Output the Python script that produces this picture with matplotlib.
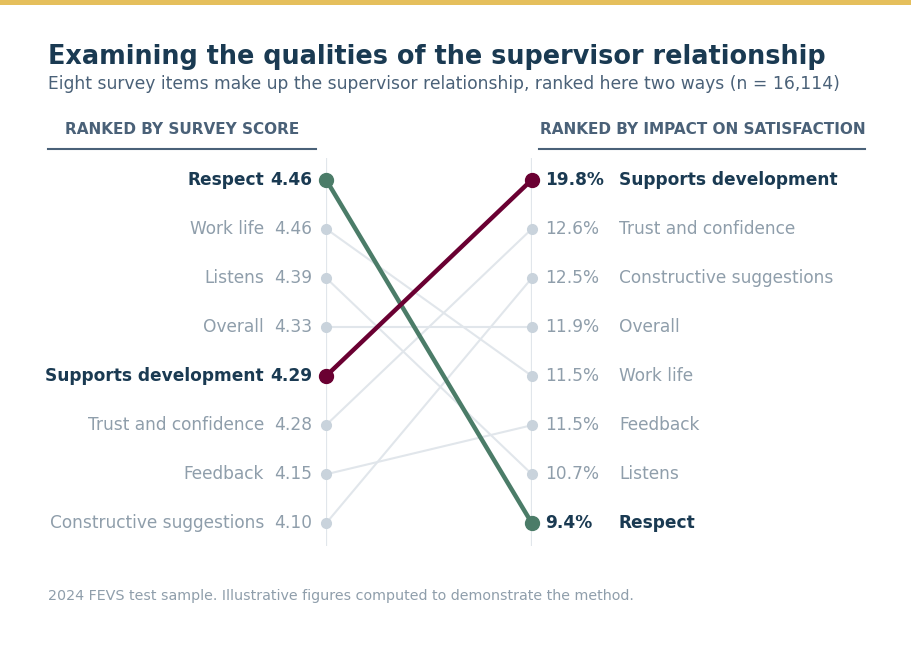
import matplotlib
matplotlib.use("Agg")
import matplotlib.pyplot as plt
from matplotlib.lines import Line2D

# ---- data ----
score_items = ["Respect", "Work life", "Listens", "Overall", "Supports development",
               "Trust and confidence", "Feedback", "Constructive suggestions"]
score_values = [4.46, 4.46, 4.39, 4.33, 4.29, 4.28, 4.15, 4.10]
impact_items = ["Supports development", "Trust and confidence", "Constructive suggestions",
                "Overall", "Work life", "Feedback", "Listens", "Respect"]
impact_values = [19.8, 12.6, 12.5, 11.9, 11.5, 11.5, 10.7, 9.4]
highlight = {"Respect": "#4b7c68", "Supports development": "#6a0032"}

title = "Examining the qualities of the supervisor relationship"
subtitle = "Eight survey items make up the supervisor relationship, ranked here two ways (n = 16,114)"
left_header = "RANKED BY SURVEY SCORE"
right_header = "RANKED BY IMPACT ON SATISFACTION"
footer = "2024 FEVS test sample. Illustrative figures computed to demonstrate the method."

NAVY = "#1a3a52"
SUB = "#4a6178"
GRAY_TXT = "#8f9eab"
GRAY_DOT = "#c9d3dc"
GRAY_LINE = "#e1e6eb"
GOLD = "#e5bf5c"

W, H = 912, 647
fig = plt.figure(figsize=(W / 100, H / 100), dpi=100)
fig.patch.set_facecolor("white")

def fx(px):
    return px / W

def fy(py):
    return 1 - py / H

# gold top bar
fig.add_artist(plt.Rectangle((0, fy(5)), 1, 5 / H, transform=fig.transFigure,
                             color=GOLD, lw=0))

fig.text(fx(48), fy(57), title, fontsize=18.4, fontweight="bold", color=NAVY, va="center")
fig.text(fx(48), fy(84), subtitle, fontsize=12.35, color=SUB, va="center")
fig.text(fx(182), fy(129), left_header, fontsize=11, fontweight="bold", color=SUB,
         va="center", ha="center")
fig.text(fx(703), fy(129), right_header, fontsize=11, fontweight="bold", color=SUB,
         va="center", ha="center")
fig.add_artist(Line2D([fx(48), fx(316)], [fy(149), fy(149)], transform=fig.transFigure,
                      color=SUB, lw=1.5))
fig.add_artist(Line2D([fx(539), fx(865)], [fy(149), fy(149)], transform=fig.transFigure,
                      color=SUB, lw=1.5))
fig.text(fx(48), fy(596), footer, fontsize=10.3, color=GRAY_TXT, va="center")

# slope axes
ax = fig.add_axes([fx(326), fy(545.5), fx(532) - fx(326), (545.5 - 157.5) / H])
ax.set_xlim(0, 1)
ax.set_ylim(7.45, -0.45)
ax.axis("off")
ax.axvline(0, color=GRAY_LINE, lw=1.6, zorder=0)
ax.axvline(1, color=GRAY_LINE, lw=1.6, zorder=0)

for i, item in enumerate(score_items):
    j = impact_items.index(item)
    hl = item in highlight
    col = highlight.get(item, None)
    if hl:
        ax.plot([0, 1], [i, j], color=col, lw=3.2, zorder=3, solid_capstyle="round")
        ax.plot([0, 1], [i, j], "o", color=col, ms=10, zorder=4, clip_on=False)
    else:
        ax.plot([0, 1], [i, j], color=GRAY_LINE, lw=1.5, zorder=1)
        ax.plot([0, 1], [i, j], "o", color=GRAY_DOT, ms=7, zorder=2, clip_on=False)

fs = 12.25
for i, (item, v) in enumerate(zip(score_items, score_values)):
    hl = item in highlight
    c = NAVY if hl else GRAY_TXT
    w = "bold" if hl else "normal"
    ax.annotate(f"{v:.2f}", (0, i), xytext=(-14, 0), textcoords="offset pixels",
                ha="right", va="center", fontsize=fs, color=c, fontweight=w,
                annotation_clip=False)
    ax.annotate(item, (0, i), xytext=(-62, 0), textcoords="offset pixels",
                ha="right", va="center", fontsize=fs, color=c, fontweight=w,
                annotation_clip=False)

for j, (item, v) in enumerate(zip(impact_items, impact_values)):
    hl = item in highlight
    c = NAVY if hl else GRAY_TXT
    w = "bold" if hl else "normal"
    ax.annotate(f"{v:.1f}%", (1, j), xytext=(13, 0), textcoords="offset pixels",
                ha="left", va="center", fontsize=fs, color=c, fontweight=w,
                annotation_clip=False)
    ax.annotate(item, (1, j), xytext=(87, 0), textcoords="offset pixels",
                ha="left", va="center", fontsize=fs, color=c, fontweight=w,
                annotation_clip=False)

fig.savefig("out.png", dpi=100, facecolor="white")
